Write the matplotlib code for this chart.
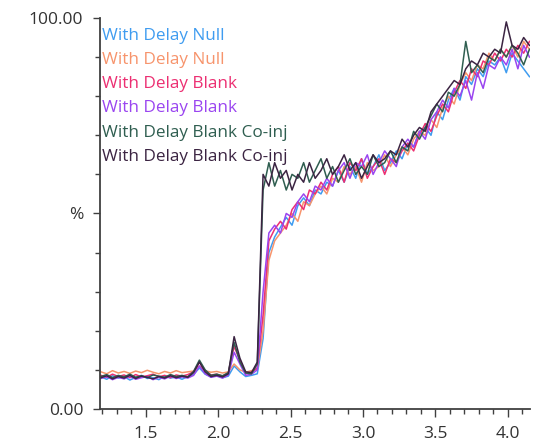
import matplotlib
matplotlib.use("Agg")
from matplotlib import pyplot as plt
from matplotlib.ticker import MultipleLocator

# retention time (min), shared by all traces
times = [1.19, 1.23, 1.27, 1.31, 1.35, 1.39, 1.43, 1.47, 1.51, 1.55,
         1.59, 1.63, 1.67, 1.71, 1.75, 1.79, 1.83, 1.87, 1.91, 1.95,
         1.99, 2.03, 2.07, 2.11, 2.15, 2.19, 2.23, 2.27, 2.31, 2.35,
         2.39, 2.43, 2.47, 2.51, 2.55, 2.59, 2.63, 2.67, 2.71, 2.75,
         2.79, 2.83, 2.87, 2.91, 2.95, 2.99, 3.03, 3.07, 3.11, 3.15,
         3.19, 3.23, 3.27, 3.31, 3.35, 3.39, 3.43, 3.47, 3.51, 3.55,
         3.59, 3.63, 3.67, 3.71, 3.75, 3.79, 3.83, 3.87, 3.91, 3.95,
         3.99, 4.03, 4.07, 4.11, 4.15]

null_1 = [8.2, 7.6, 8.5, 7.9, 8.3, 7.4, 8.1, 8.6, 7.8, 8.0,
          7.5, 8.4, 7.9, 8.2, 7.6, 8.3, 8.8, 10.5, 8.9, 8.2,
          8.6, 8.0, 8.4, 11.0, 9.5, 8.3, 8.6, 9.0, 18.0, 40.0,
          44.0, 46.5, 49.0, 47.0, 52.0, 54.0, 52.0, 56.0, 55.0, 58.0,
          57.0, 61.0, 58.0, 62.0, 59.0, 64.0, 60.0, 62.0, 65.0, 61.0,
          63.0, 66.0, 64.0, 68.0, 67.0, 71.0, 72.0, 70.0, 76.0, 74.0,
          79.0, 82.0, 79.0, 85.0, 83.0, 87.0, 85.0, 89.0, 88.0, 90.0,
          86.0, 91.0, 89.0, 87.0, 85.0]

null_2 = [9.5, 9.0, 9.8, 9.2, 9.6, 9.1, 9.7, 9.3, 9.9, 9.4,
          9.0, 9.6, 9.2, 9.8, 9.3, 9.5, 9.7, 11.0, 9.8, 9.4,
          9.6, 9.2, 9.5, 11.5, 10.0, 9.4, 9.8, 10.2, 20.0, 38.0,
          43.0, 45.0, 47.0, 50.0, 48.0, 53.0, 52.0, 55.0, 57.0, 55.0,
          59.0, 58.0, 62.0, 60.0, 62.0, 58.0, 63.0, 61.0, 62.0, 65.0,
          62.0, 65.0, 67.0, 65.0, 69.0, 71.0, 70.0, 74.0, 72.0, 77.0,
          80.0, 78.0, 83.0, 86.0, 84.0, 88.0, 87.0, 91.0, 89.0, 92.0,
          90.0, 93.0, 90.0, 94.0, 92.0]

blank_1 = [8.6, 8.1, 8.9, 8.3, 8.7, 8.0, 8.8, 8.2, 8.5, 8.9,
           8.2, 8.6, 8.0, 8.7, 8.4, 8.8, 9.5, 12.0, 9.8, 8.7,
           8.9, 8.4, 9.2, 16.0, 12.5, 9.0, 9.4, 10.5, 24.0, 43.0,
           46.0, 48.0, 46.0, 51.0, 53.0, 51.0, 56.0, 55.0, 58.0, 56.0,
           60.0, 62.0, 58.0, 63.0, 61.0, 64.0, 59.0, 62.0, 64.0, 60.0,
           64.0, 63.0, 66.0, 68.0, 66.0, 70.0, 73.0, 71.0, 75.0, 78.0,
           76.0, 81.0, 84.0, 82.0, 87.0, 85.0, 89.0, 88.0, 91.0, 89.0,
           92.0, 90.0, 93.0, 91.0, 94.0]

blank_2 = [7.8, 8.3, 7.5, 8.1, 7.7, 8.4, 7.6, 8.0, 8.3, 7.5,
           8.1, 7.7, 8.4, 7.8, 8.2, 7.9, 8.6, 11.0, 9.0, 8.1,
           8.4, 7.9, 8.7, 14.5, 11.5, 8.6, 8.9, 10.0, 30.0, 45.0,
           47.0, 45.0, 50.0, 49.0, 53.0, 55.0, 53.0, 57.0, 56.0, 59.0,
           57.0, 61.0, 63.0, 59.0, 63.0, 62.0, 65.0, 60.0, 63.0, 66.0,
           64.0, 62.0, 67.0, 69.0, 67.0, 71.0, 69.0, 74.0, 76.0, 79.0,
           77.0, 82.0, 80.0, 84.0, 79.0, 86.0, 82.0, 88.0, 87.0, 90.0,
           88.0, 92.0, 87.0, 93.0, 90.0]

coinj_1 = [8.3, 8.8, 8.0, 8.6, 8.2, 8.9, 8.1, 8.5, 8.0, 8.7,
           8.4, 8.1, 8.8, 8.3, 8.6, 8.2, 9.6, 12.5, 10.0, 8.6,
           8.9, 8.5, 9.3, 17.0, 12.0, 9.2, 9.0, 11.5, 56.0, 63.0,
           57.0, 61.0, 56.0, 60.0, 59.0, 63.0, 58.0, 61.0, 64.0, 59.0,
           62.0, 58.0, 61.0, 64.0, 60.0, 62.0, 60.0, 65.0, 62.0, 63.0,
           66.0, 63.0, 67.0, 66.0, 71.0, 69.0, 72.0, 75.0, 78.0, 76.0,
           81.0, 80.0, 83.0, 94.0, 86.0, 88.0, 86.0, 90.0, 89.0, 92.0,
           90.0, 93.0, 91.0, 88.0, 92.0]

coinj_2 = [8.0, 8.5, 7.7, 8.3, 7.9, 8.6, 7.8, 8.4, 8.1, 7.7,
           8.3, 7.9, 8.5, 8.0, 8.4, 8.1, 9.3, 12.0, 9.5, 8.3,
           8.6, 8.2, 9.0, 18.5, 13.0, 9.5, 9.3, 12.0, 60.0, 57.0,
           63.0, 59.0, 61.0, 56.0, 60.0, 58.0, 63.0, 59.0, 61.0, 64.0,
           60.0, 62.0, 65.0, 61.0, 63.0, 59.0, 62.0, 65.0, 63.0, 64.0,
           66.0, 65.0, 69.0, 67.0, 70.0, 72.0, 71.0, 76.0, 78.0, 80.0,
           82.0, 84.0, 83.0, 87.0, 89.0, 88.0, 91.0, 90.0, 92.0, 91.0,
           99.0, 93.0, 92.0, 95.0, 93.0]

labels = ["With Delay Null", "With Delay Null", "With Delay Blank",
          "With Delay Blank", "With Delay Blank Co-inj", "With Delay Blank Co-inj"]
series = [null_1, null_2, blank_1, blank_2, coinj_1, coinj_2]
colors = ["#3f9cf0", "#f7946c", "#ec2f72", "#9a45f0", "#2f5e50", "#3b2442"]

plt.rcParams["font.family"] = ["Open Sans", "DejaVu Sans"]

fig = plt.figure(figsize=(5.46, 4.46), dpi=100)
ax = fig.add_axes([0.183, 0.083, 0.7875, 0.8767])

for ys, c in zip(series, colors):
    ax.plot(times, ys, color=c, lw=1.1)

# legend is just coloured text stacked in the top-left corner
for k, (lab, c) in enumerate(zip(labels, colors)):
    ax.text(0.006, 0.955 - k * 0.062, lab, color=c, fontsize=12.3,
            transform=ax.transAxes, va="center", ha="left")

ax.set_xlim(1.183, 4.153)
ax.set_ylim(0, 100)

ax.xaxis.set_major_locator(MultipleLocator(0.5))
ax.xaxis.set_minor_locator(MultipleLocator(0.1))
ax.set_yticks([0, 50, 100])
ax.set_yticklabels(["0.00", "%", "100.00"])
ax.yaxis.set_minor_locator(MultipleLocator(10))

for s in ["top", "right"]:
    ax.spines[s].set_visible(False)
for s in ["left", "bottom"]:
    ax.spines[s].set_color("#404040")
    ax.spines[s].set_linewidth(1.3)

ax.tick_params(axis="both", which="major", labelsize=12.5, colors="#404040",
               labelcolor="#333333", length=5, width=1.0)
ax.tick_params(axis="both", which="minor", colors="#404040", length=3.5, width=1.0)
ax.tick_params(axis="y", which="major", pad=7)
ax.tick_params(axis="x", which="major", length=6, pad=6)

plt.savefig("out.png", dpi=100)
